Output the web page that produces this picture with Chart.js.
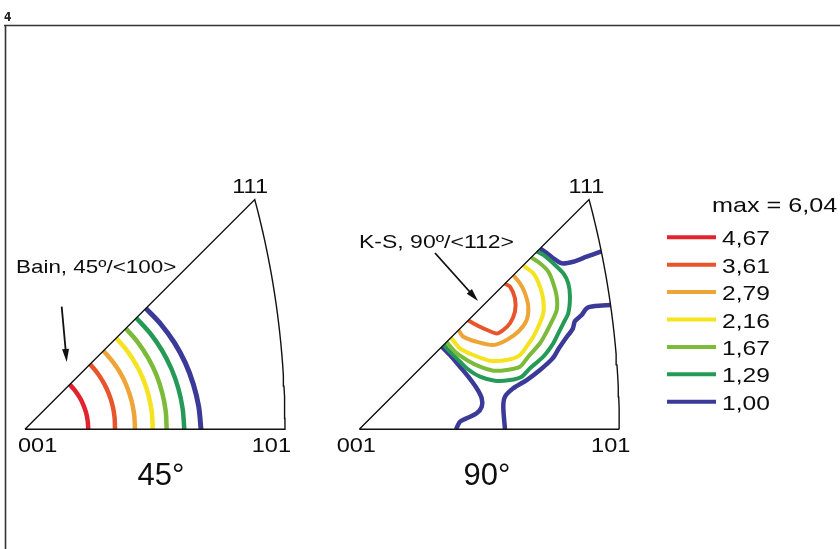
<!DOCTYPE html>
<html>
<head>
<meta charset="utf-8">
<script src="https://cdn.jsdelivr.net/npm/chart.js@4.4.1/dist/chart.umd.min.js"></script>
<style>
  body { margin: 0; background: #fff; }
  #wrap { position: relative; width: 840px; height: 549px; }
</style>
</head>
<body>
<div id="wrap"><canvas id="myChart" width="840" height="549"></canvas></div>
<script>
// contour levels (legend) and their colours
const levels = ['4,67', '3,61', '2,79', '2,16', '1,67', '1,29', '1,00'];
const levelColors = ['#e2232e', '#e8542c', '#eea437', '#f4e31e', '#7cba3a', '#249a56', '#3b3a98'];
const maxLabel = 'max = 6,04';
const poleLabels = ['001', '101', '111'];
const panelTitles = ['45°', '90°'];
const notes = ['Bain, 45º/<100>', 'K-S, 90º/<112>'];

// 45° panel : contours around 001 (stereographic x, y)
const bain467 = [[0.1008, 0], [0.0999, 0.0132], [0.0974, 0.0261], [0.0931, 0.0386], [0.0873, 0.0504], [0.0800, 0.0614], [0.0713, 0.0713]];
const bain361 = [[0.1434, 0], [0.1427, 0.0188], [0.1396, 0.0374], [0.1340, 0.0555], [0.1260, 0.0728], [0.1159, 0.0889], [0.1037, 0.1037]];
const bain279 = [[0.1752, 0], [0.1740, 0.0229], [0.1697, 0.0455], [0.1626, 0.0674], [0.1527, 0.0882], [0.1400, 0.1074], [0.1250, 0.1250]];
const bain216 = [[0.2034, 0], [0.2021, 0.0266], [0.1971, 0.0528], [0.1889, 0.0783], [0.1774, 0.1024], [0.1628, 0.1249], [0.1453, 0.1453]];
const bain167 = [[0.2257, 0], [0.2241, 0.0295], [0.2185, 0.0585], [0.2093, 0.0867], [0.1963, 0.1134], [0.1801, 0.1382], [0.1607, 0.1607]];
const bain129 = [[0.2538, 0], [0.2511, 0.0331], [0.2442, 0.0654], [0.2331, 0.0966], [0.2181, 0.1259], [0.1994, 0.1530], [0.1773, 0.1773]];
const bain100 = [[0.2804, 0], [0.2767, 0.0364], [0.2682, 0.0719], [0.2554, 0.1058], [0.2382, 0.1376], [0.2171, 0.1666], [0.1926, 0.1926]];

// 90° panel : contours near the K-S position
const ks361 = [[0.232, 0.232], [0.2401, 0.2272], [0.248, 0.2087], [0.248, 0.1873], [0.2401, 0.1689],
  [0.2294, 0.1582], [0.2189, 0.1526], [0.2055, 0.1574], [0.1896, 0.1646], [0.1735, 0.1735]];
const ks279 = [[0.2455, 0.2455], [0.256, 0.2326], [0.264, 0.2166], [0.2692, 0.1953], [0.2667, 0.1741],
  [0.2544, 0.1566], [0.2348, 0.1423], [0.2135, 0.1343], [0.187, 0.1395], [0.1657, 0.1475], [0.158, 0.158]];
const ks216 = [[0.261, 0.261], [0.2772, 0.2485], [0.2879, 0.2272], [0.2931, 0.206], [0.2931, 0.1848],
  [0.2851, 0.1634], [0.2772, 0.1475], [0.2719, 0.1395], [0.256, 0.1184], [0.2348, 0.1104],
  [0.2082, 0.1093], [0.1816, 0.1184], [0.1604, 0.129], [0.146, 0.146]];
const ks167 = [[0.274, 0.274], [0.2879, 0.2644], [0.3011, 0.2511], [0.309, 0.2326], [0.3145, 0.2112],
  [0.3145, 0.19], [0.3065, 0.1714], [0.2985, 0.1555], [0.2879, 0.137], [0.2692, 0.1157],
  [0.256, 0.0997], [0.2348, 0.0945], [0.2135, 0.0934], [0.1923, 0.0997], [0.1711, 0.1104],
  [0.1525, 0.1236], [0.139, 0.139]];
const ks129 = [[0.283, 0.283], [0.2931, 0.2777], [0.309, 0.2644], [0.325, 0.2485], [0.3329, 0.2326],
  [0.3356, 0.2112], [0.3329, 0.1848], [0.325, 0.1689], [0.317, 0.1529], [0.309, 0.137],
  [0.2931, 0.1157], [0.2719, 0.0972], [0.2587, 0.0838], [0.2401, 0.0785], [0.2162, 0.0774],
  [0.1923, 0.0838], [0.1711, 0.0972], [0.1552, 0.1131], [0.1392, 0.129], [0.135, 0.135]];
const ks100a = [[0.288, 0.288], [0.2958, 0.2829], [0.309, 0.2724], [0.3224, 0.2644], [0.3409, 0.267],
  [0.3622, 0.275], [0.3855, 0.2834]];
const ks100b = [[0.4003, 0.198], [0.3755, 0.1964], [0.3622, 0.1928], [0.3543, 0.1821], [0.3436, 0.1725],
  [0.340, 0.160], [0.329, 0.145], [0.318, 0.129], [0.308, 0.113], [0.2879, 0.0945],
  [0.2667, 0.0785], [0.2453, 0.0653], [0.2321, 0.0519], [0.2294, 0.036], [0.2321, 0]];
const ks100c = [[0.1315, 0.1315], [0.1445, 0.1184], [0.1604, 0.0997], [0.1736, 0.0838], [0.187, 0.0653],
  [0.195, 0.0494], [0.195, 0.036], [0.187, 0.0255], [0.1711, 0.0175], [0.1604, 0.0121], [0.154, 0]];

// outline of the standard triangle 001-101-111 (stereographic projection)
function ipfFrame() {
  var pts = [[0, 0], [Math.SQRT2 - 1, 0]];
  for (var i = 1; i <= 24; i++) {
    var t = i / 24;
    var n = Math.sqrt(2 + t * t);
    pts.push([1 / (n + 1), t / (n + 1)]);
  }
  pts.push([0, 0]);
  return pts;
}

function toXY(arr) {
  return arr.map(function (p) { return { x: p[0], y: p[1] }; });
}

function contour(points, level, axis, width, tension) {
  return {
    data: toXY(points),
    borderColor: levelColors[levels.indexOf(level)],
    borderWidth: width,
    showLine: true,
    pointRadius: 0,
    tension: tension,
    xAxisID: axis,
    borderCapStyle: 'butt',
    borderJoinStyle: 'round'
  };
}

function frame(axis) {
  return {
    data: toXY(ipfFrame()),
    borderColor: '#111',
    borderWidth: 1.4,
    showLine: true,
    pointRadius: 0,
    tension: 0,
    xAxisID: axis
  };
}

var datasets = [
  frame('x'), frame('x2'),
  contour(bain467, '4,67', 'x', 4.5, 0.34),
  contour(bain361, '3,61', 'x', 4.5, 0.34),
  contour(bain279, '2,79', 'x', 4.5, 0.34),
  contour(bain216, '2,16', 'x', 4.5, 0.34),
  contour(bain167, '1,67', 'x', 4.5, 0.34),
  contour(bain129, '1,29', 'x', 4.5, 0.34),
  contour(bain100, '1,00', 'x', 5, 0.34),
  contour(ks361, '3,61', 'x2', 4, 0.25),
  contour(ks279, '2,79', 'x2', 4, 0.25),
  contour(ks216, '2,16', 'x2', 4, 0.25),
  contour(ks167, '1,67', 'x2', 4, 0.25),
  contour(ks129, '1,29', 'x2', 4, 0.25),
  contour(ks100a, '1,00', 'x2', 4.5, 0.25),
  contour(ks100b, '1,00', 'x2', 4.5, 0.25),
  contour(ks100c, '1,00', 'x2', 4.5, 0.25)
];

var FONT = '"Liberation Sans", Arial, sans-serif';

function text(ctx, t, x, y, size, align, sx) {
  ctx.save();
  ctx.font = size + 'px ' + FONT;
  ctx.fillStyle = '#0d0d0d';
  ctx.textAlign = align;
  ctx.textBaseline = 'alphabetic';
  ctx.translate(x, y);
  ctx.scale(sx, 1);
  ctx.fillText(t, 0, 0);
  ctx.restore();
}

function arrow(ctx, x1, y1, x2, y2) {
  var a = Math.atan2(y2 - y1, x2 - x1);
  var len = 13, w = 3.5;
  ctx.save();
  ctx.strokeStyle = '#111';
  ctx.fillStyle = '#111';
  ctx.lineWidth = 1.8;
  ctx.beginPath();
  ctx.moveTo(x1, y1);
  ctx.lineTo(x2 - Math.cos(a) * len * 0.8, y2 - Math.sin(a) * len * 0.8);
  ctx.stroke();
  ctx.beginPath();
  ctx.moveTo(x2, y2);
  ctx.lineTo(x2 - Math.cos(a) * len - Math.sin(a) * w, y2 - Math.sin(a) * len + Math.cos(a) * w);
  ctx.lineTo(x2 - Math.cos(a) * len + Math.sin(a) * w, y2 - Math.sin(a) * len - Math.cos(a) * w);
  ctx.closePath();
  ctx.fill();
  ctx.restore();
}

var decor = {
  id: 'decor',
  afterDatasetsDraw: function (chart) {
    var ctx = chart.ctx;
    var s = chart.scales;
    var oy = s.y.getPixelForValue(0);
    var o1 = s.x.getPixelForValue(0);
    var o2 = s.x2.getPixelForValue(0);

    // page frame and figure number
    ctx.save();
    ctx.strokeStyle = '#333';
    ctx.lineWidth = 1.6;
    ctx.beginPath();
    ctx.moveTo(4, 25.5);
    ctx.lineTo(840, 25.5);
    ctx.moveTo(5.5, 25);
    ctx.lineTo(5.5, 549);
    ctx.stroke();
    ctx.font = 'bold 12px "DejaVu Sans Condensed", "DejaVu Sans", sans-serif';
    ctx.fillStyle = '#222';
    ctx.fillText('4', 4, 20.5);
    ctx.restore();

    // pole labels
    text(ctx, poleLabels[0], o1 - 7, oy + 23, 21, 'left', 1.12);
    text(ctx, poleLabels[1], o1 + 266, oy + 23, 21, 'right', 1.12);
    text(ctx, poleLabels[2], o1 + 243, 193, 21, 'right', 1.12);
    text(ctx, poleLabels[0], o2 - 22.6, oy + 23, 21, 'left', 1.12);
    text(ctx, poleLabels[1], o2 + 271, oy + 23, 21, 'right', 1.12);
    text(ctx, poleLabels[2], o2 + 245, 193, 21, 'right', 1.12);

    text(ctx, panelTitles[0], 161, 485, 31, 'center', 1.0);
    text(ctx, panelTitles[1], 487, 485, 31, 'center', 1.0);

    text(ctx, notes[0], 16, 273, 19, 'left', 1.18);
    text(ctx, notes[1], 359, 248, 19, 'left', 1.21);

    arrow(ctx, 61.7, 306.7, 66.7, 362);
    arrow(ctx, 435, 253, 478, 301);

    // legend
    text(ctx, maxLabel, 712, 212, 21, 'left', 1.2);
    for (var i = 0; i < levels.length; i++) {
      var ly = 237.3 + i * 27.4;
      ctx.save();
      ctx.strokeStyle = levelColors[i];
      ctx.lineWidth = 4;
      ctx.beginPath();
      ctx.moveTo(667, ly);
      ctx.lineTo(716, ly);
      ctx.stroke();
      ctx.restore();
      text(ctx, levels[i], 722, ly + 8, 21, 'left', 1.17);
    }
  }
};

var UNIT = 627.7; // pixels per projection unit
new Chart(document.getElementById('myChart'), {
  type: 'scatter',
  data: { datasets: datasets },
  options: {
    responsive: false,
    animation: false,
    devicePixelRatio: 1,
    layout: { padding: 0 },
    plugins: { legend: { display: false }, tooltip: { enabled: false } },
    events: [],
    scales: {
      x: { type: 'linear', display: false, min: -25 / UNIT, max: (840 - 25) / UNIT },
      x2: { type: 'linear', axis: 'x', position: 'bottom', display: false, min: -359.3 / UNIT, max: (840 - 359.3) / UNIT },
      y: { type: 'linear', display: false, min: -(549 - 429.3) / UNIT, max: 429.3 / UNIT }
    }
  },
  plugins: [decor]
});
</script>
</body>
</html>
